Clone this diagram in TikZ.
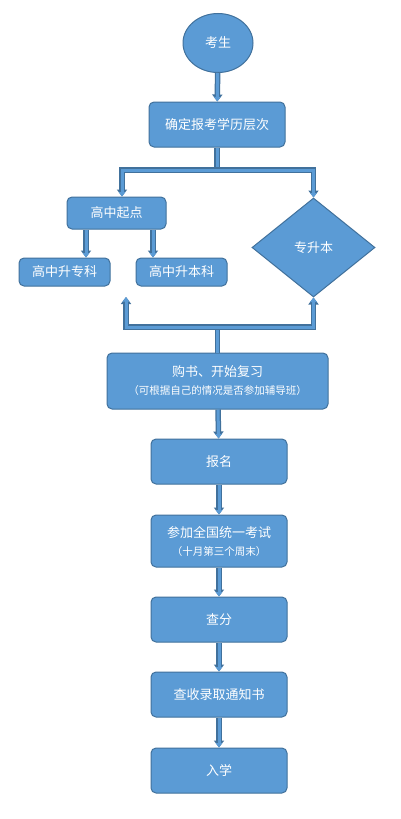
\documentclass[tikz,border=0pt]{standalone}
\usepackage{fontspec}
\setmainfont{Noto Sans CJK SC}
\usetikzlibrary{shapes.geometric,arrows.meta}
\definecolor{boxfill}{HTML}{5B9BD5}
\definecolor{boxline}{HTML}{41719C}
\tikzset{
  base/.style={fill=boxfill, draw=boxline, line width=1pt, text=white, inner sep=0pt,
    font=\fontsize{13}{15}\selectfont},
  box/.style={base, rectangle, rounded corners=5pt, minimum width=136pt, minimum height=45pt},
  pipe/.style={preaction={draw=boxline, line width=5.5pt}, draw=boxfill, line width=3pt},
  pipetip/.style={preaction={draw=boxline, line width=5.5pt, -{Triangle[width=10pt,length=7pt]}},
    draw=boxfill, line width=3pt, -{Triangle[width=6.5pt,length=4.5pt]}},
  pipetips/.style={preaction={draw=boxline, line width=5.5pt, {Triangle[width=10pt,length=7pt]}-{Triangle[width=10pt,length=7pt]}},
    draw=boxfill, line width=3pt, {Triangle[width=6.5pt,length=4.5pt]}-{Triangle[width=6.5pt,length=4.5pt]}},
  small/.style={font=\fontsize{10.5}{12}\selectfont}
}
\begin{document}
\begin{tikzpicture}[x=1pt,y=-1pt]
\useasboundingbox (0,0) rectangle (400,819);
\fill[white] (0,0) rectangle (400,819);
% nodes
\node[base, ellipse, minimum width=70pt, minimum height=59pt] (ks) at (218,43) {考生};
\node[box] (lvl) at (217,124.5) {确定报考学历层次};
\node[box, minimum width=99pt, minimum height=32pt] (gqd) at (116.5,213) {高中起点};
\node[box, minimum width=91pt, minimum height=28pt] (gzk) at (64.5,272) {高中升专科};
\node[box, minimum width=91pt, minimum height=28pt] (gbk) at (181.5,272) {高中升本科};
\node[base, diamond, minimum width=123pt, minimum height=99pt] (zsb) at (313.5,247.5) {专升本};
\node[box, minimum width=221pt, minimum height=56pt, align=center] (gs) at (217.5,381)
  {购书、开始复习\\[3pt]{\fontsize{10.5}{12}\selectfont （可根据自己的情况是否参加辅导班）}};
\node[box] (bm) at (219,461.5) {报名};
\node[box, minimum height=52pt, align=center] (ks2) at (219,541)
  {参加全国统一考试\\[3pt]{\fontsize{10.5}{12}\selectfont （十月第三个周末）}};
\node[box] (cf) at (219,619.5) {查分};
\node[box] (tzs) at (219,694.5) {查收录取通知书};
\node[box] (rx) at (219,770.5) {入学};
% coordinates
\coordinate (bl) at (122,170);
\coordinate (bottomL) at (126,327);
\coordinate (upEnd) at (126,297);
% connectors
\draw[pipetip] (ks) -- (lvl);
\draw[pipe] (lvl.south) -- (lvl.south |- bl);
\draw[pipetips] (bl |- gqd.north) -- (bl) -- (bl -| zsb.north) -- (zsb.north);
\draw[pipetip] (gqd.south -| 86,0) -- (gzk.north -| 86,0);
\draw[pipetip] (gqd.south -| 153,0) -- (gbk.north -| 153,0);
\draw[pipe] (gs.north) -- (gs.north |- bottomL);
\draw[pipetips] (upEnd) -- (bottomL) -- (bottomL -| zsb.south) -- (zsb.south);
\draw[pipetip] (gs) -- (bm);
\draw[pipetip] (bm) -- (ks2);
\draw[pipetip] (ks2) -- (cf);
\draw[pipetip] (cf) -- (tzs);
\draw[pipetip] (tzs) -- (rx);
\end{tikzpicture}
\end{document}
